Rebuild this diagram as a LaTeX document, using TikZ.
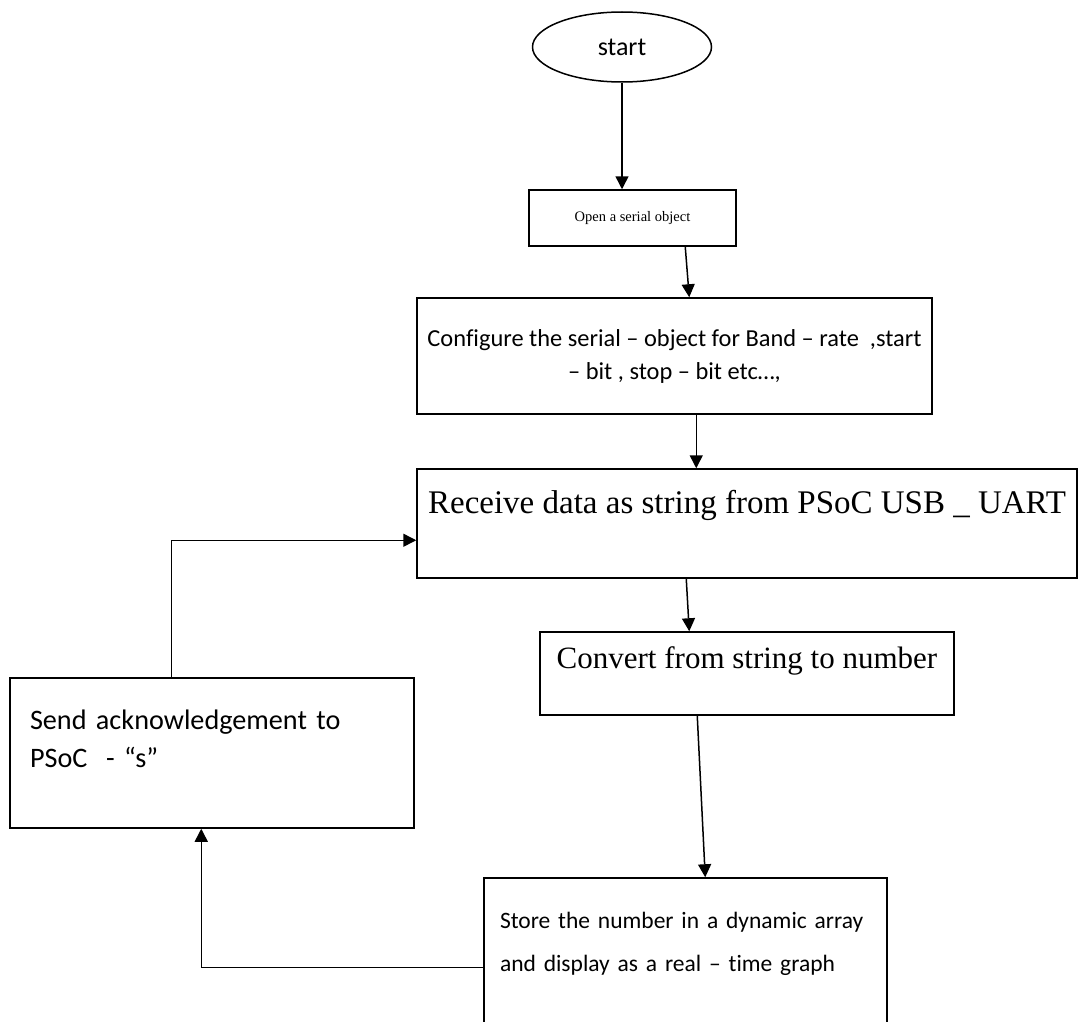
\documentclass[tikz,border=0pt]{standalone}
\usepackage{fontspec}
\setmainfont{Carlito}[Ligatures={TeX,NoCommon}]
\newfontfamily\tnr{Liberation Serif}
\usetikzlibrary{shapes.geometric,arrows.meta,calc}
\newcommand{\lift}[1]{\rule[-#1]{0pt}{#1}}

\begin{document}
\begin{tikzpicture}[
  x=1pt, y=-1pt,
  line width=1.5pt,
  term/.style={draw, ellipse, inner sep=0pt, font=\fontsize{26}{31}\selectfont},
  box/.style={draw, rectangle, inner sep=0pt},
  cal/.style={font=\fontsize{24.4}{33}\selectfont},
  ar/.style={-{Triangle[length=13pt, width=13pt]}}
]
  \useasboundingbox (0,0) rectangle (1084,1022);
  % steps
  \node[term, minimum width=179pt, minimum height=70pt] (start) at (622,47) {start};
  \node[box, minimum width=207pt, minimum height=56pt,
        font=\tnr\fontsize{14.5}{17}\selectfont] (open) at (632.5,218) {Open a serial object};
  \node[box, cal, minimum width=515pt, minimum height=116pt, align=center] (conf) at (674.5,356)
        {Configure the serial – object for Band – rate\ \ ,start\\– bit , stop – bit etc…,};
  \node[box, minimum width=660pt, minimum height=109pt,
        font=\tnr\fontsize{33}{38}\selectfont] (recv) at (747,523.5)
        {Receive data as string from PSoC USB \_ UART\lift{43pt}};
  \node[box, minimum width=414pt, minimum height=83pt,
        font=\tnr\fontsize{31}{36}\selectfont] (conv) at (747,673.5)
        {Convert from string to number\lift{31pt}};
  \node[box, minimum width=404pt, minimum height=150pt, font=\fontsize{28.2}{38}\selectfont,
        align=left, text width=364pt] (send) at (212,753)
        {Send acknowledgement to\\PSoC\ \ - “s”\lift{28pt}};
  \node[box, minimum width=403pt, minimum height=182pt, font=\fontsize{23.5}{43}\selectfont,
        align=left, text width=371pt] (store) at (685.5,969)
        {\mbox{Store the number in a dynamic array}\\\mbox{and display as a real – time graph}\lift{54pt}};
  % flow
  \draw[ar] (start.south) -- (start.south |- open.north);
  \draw[ar] ($(open.south west)+(157,0)$) -- ($(conf.north west)+(273,0)$);
  \draw[ar] ($(conf.south west)+(280,0)$) -- ($(recv.north west)+(280,0)$);
  \draw[ar] ($(recv.south west)+(270,0)$) -- ($(conv.north west)+(150,0)$);
  \draw[ar] ($(conv.south west)+(158,0)$) -- ($(store.north west)+(222,0)$);
  % loop back
  \draw[ar] ($(store.north west)+(0,90)$) -| ($(send.south west)+(192,0)$);
  \draw[ar] ($(send.north west)+(162,0)$) |- ($(recv.north west)+(0,72)$);
\end{tikzpicture}
\end{document}
